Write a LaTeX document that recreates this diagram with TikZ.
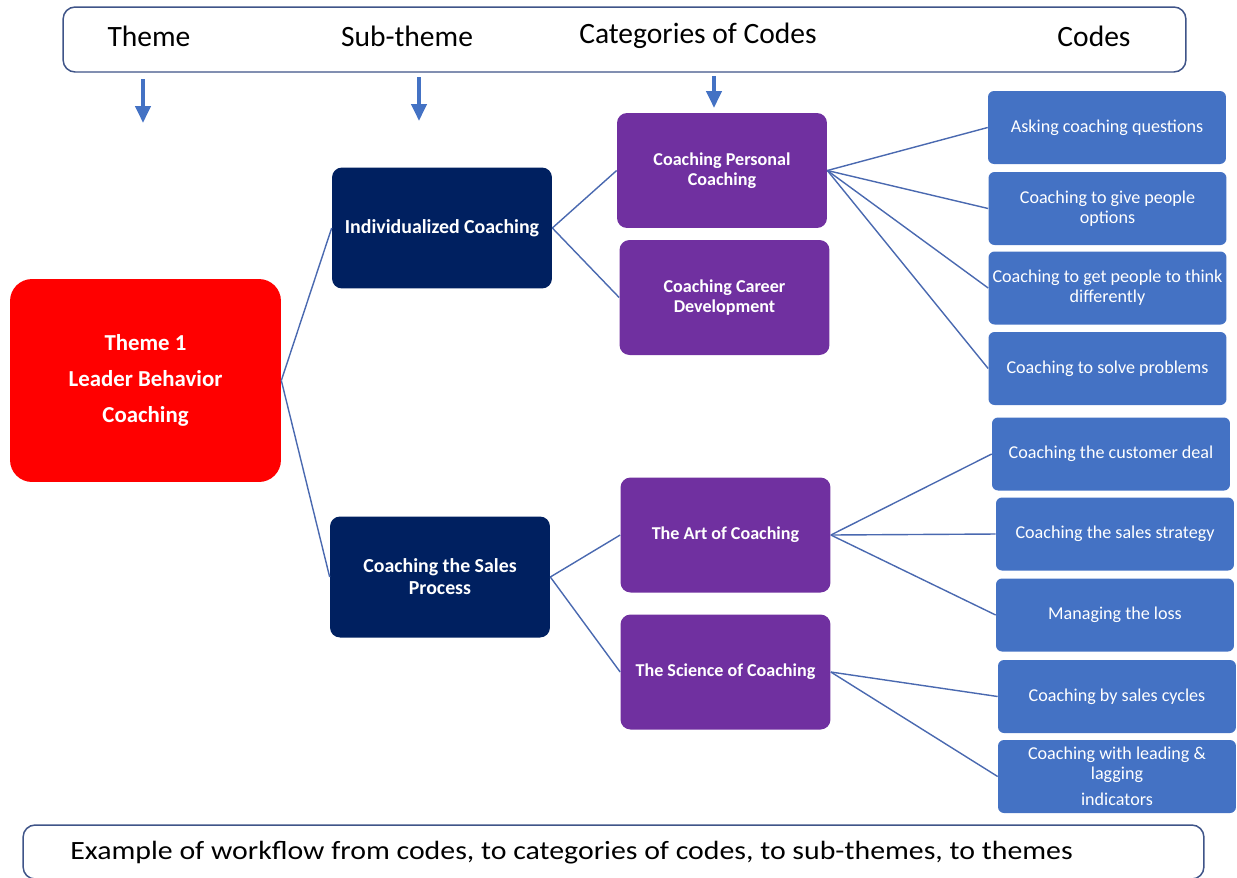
\documentclass[tikz,border=0pt]{standalone}
\usepackage{fontspec}
\setmainfont{Carlito}
\usetikzlibrary{arrows.meta}
\definecolor{navyc}{HTML}{002060}
\definecolor{purpc}{HTML}{7030A0}
\definecolor{codec}{HTML}{4472C4}
\definecolor{redc}{HTML}{FF0000}
\definecolor{linec}{HTML}{4A69B0}
\definecolor{framec}{HTML}{3F5488}
\begin{document}
\begin{tikzpicture}[x=0.02cm,y=-0.02cm,
  every node/.style={inner sep=0pt, align=center},
  themebox/.style={fill=redc, rounded corners=0.44cm, text=white,
    font=\bfseries\fontsize{13}{20.4}\selectfont,
    minimum width=5.42cm, minimum height=4.06cm},
  subbox/.style={fill=navyc, rounded corners=0.2cm, text=white,
    font=\bfseries\fontsize{11.3}{12.5}\selectfont,
    minimum width=4.4cm, minimum height=2.42cm},
  catbox/.style={fill=purpc, rounded corners=0.2cm, text=white,
    font=\bfseries\fontsize{10.3}{11.4}\selectfont,
    minimum width=4.2cm, minimum height=2.3cm},
  codebox/.style={fill=codec, rounded corners=0.12cm, text=white,
    font=\fontsize{10.3}{11.4}\selectfont,
    minimum width=4.76cm, minimum height=1.46cm},
  frame/.style={draw=framec, line width=0.85pt, rounded corners=0.24cm, fill=white},
  headlabel/.style={anchor=base, font=\fontsize{16.8}{20}\selectfont},
  link/.style={draw=linec, line width=0.8pt},
  downarrow/.style={draw=codec, line width=2.3pt,
    -{Triangle[length=0.34cm, width=0.30cm]}}
]
\useasboundingbox (0,0) rectangle (1237,877);
\clip (0,0) rectangle (1237,877);

% header
\node[frame, minimum width=22.46cm, minimum height=1.3cm] (head) at (624.5,39.5) {};
\node[headlabel] (lth) at (149,46) {Theme};
\node[headlabel] (lsub) at (407,46) {Sub-theme};
\node[headlabel] (lcat) at (698,43) {Categories of Codes};
\node[headlabel] (lcod) at (1094,46) {Codes};

% arrows
\coordinate (a1s) at (143,79);  \coordinate (a1e) at (143,123);
\coordinate (a2s) at (419,77);  \coordinate (a2e) at (419,121);
\coordinate (a3s) at (714,76);  \coordinate (a3e) at (714,108);
\draw[downarrow] (a1s) -- (a1e);
\draw[downarrow] (a2s) -- (a2e);
\draw[downarrow] (a3s) -- (a3e);

% theme
\node[themebox] (theme) at (145.5,380.5) {Theme 1\\Leader Behavior\\Coaching};

% sub-themes
\node[subbox] (ind) at (442,228) {Individualized Coaching};
\node[subbox] (sales) at (440,577) {Coaching the Sales\\Process};

% categories
\node[catbox] (cpc) at (722,170.5) {Coaching Personal\\Coaching};
\node[catbox] (ccd) at (724.5,297.5) {Coaching Career\\Development};
\node[catbox] (art) at (725.5,535) {The Art of Coaching};
\node[catbox] (sci) at (725.5,672) {The Science of Coaching};

% codes
\node[codebox] (c1) at (1107,127.5) {Asking coaching questions};
\node[codebox] (c2) at (1107.5,208.5) {Coaching to give people\\options};
\node[codebox] (c3) at (1107.5,288) {Coaching to get people to think\\differently};
\node[codebox] (c4) at (1107.5,368.5) {Coaching to solve problems};
\node[codebox] (c5) at (1111,454) {Coaching the customer deal};
\node[codebox] (c6) at (1115,534) {Coaching the sales strategy};
\node[codebox] (c7) at (1115,615) {Managing the loss};
\node[codebox] (c8) at (1117,696.5) {Coaching by sales cycles};
\node[codebox] (c9) at (1117,776.5) {Coaching with leading \&\\lagging\\[3.4pt]indicators};

% connectors
\draw[link] (theme.east) -- (ind.west);
\draw[link] (theme.east) -- (sales.west);
\draw[link] (ind.east) -- (cpc.west);
\draw[link] (ind.east) -- (ccd.west);
\draw[link] (sales.east) -- (art.west);
\draw[link] (sales.east) -- (sci.west);
\foreach \c in {c1,c2,c3,c4} \draw[link] (cpc.east) -- (\c.west);
\foreach \c in {c5,c6,c7} \draw[link] (art.east) -- (\c.west);
\foreach \c in {c8,c9} \draw[link] (sci.east) -- (\c.west);

% footer
\node[frame, minimum width=23.62cm, minimum height=1.08cm] (foot) at (613.5,852) {};
\node[anchor=base west, font=\fontsize{15}{18}\selectfont] (ftxt) at (70,859)
  {\scalebox{1.132}[1]{Example of workflow from codes, to categories of codes, to sub-themes, to themes}};
\end{tikzpicture}
\end{document}
